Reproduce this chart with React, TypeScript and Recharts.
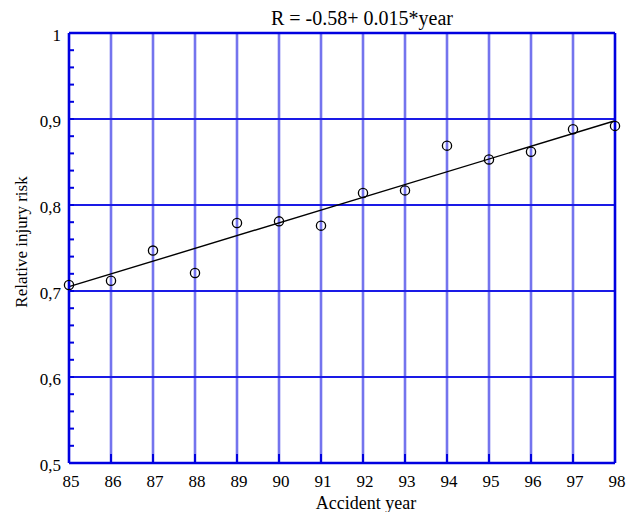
import React from "react";
import {
  ComposedChart,
  Scatter,
  Line,
  XAxis,
  YAxis,
  ReferenceLine,
} from "recharts";

const years = [85, 86, 87, 88, 89, 90, 91, 92, 93, 94, 95, 96, 97, 98];
const risk = [0.707, 0.712, 0.747, 0.721, 0.779, 0.781, 0.776, 0.814, 0.817, 0.869, 0.853, 0.862, 0.888, 0.892];
const fitYears = [85, 98];
const fitRisk = [0.705, 0.898];
const gridYears = [86, 87, 88, 89, 90, 91, 92, 93, 94, 95, 96, 97];
const gridRisk = [0.6, 0.7, 0.8, 0.9];
const yTicks = [
  0.5, 0.52, 0.54, 0.56, 0.58, 0.6, 0.62, 0.64, 0.66, 0.68, 0.7, 0.72, 0.74, 0.76, 0.78,
  0.8, 0.82, 0.84, 0.86, 0.88, 0.9, 0.92, 0.94, 0.96, 0.98, 1.0,
];
const yMajor = [0.5, 0.6, 0.7, 0.8, 0.9, 1.0];
const yMajorLabels = ["0,5", "0,6", "0,7", "0,8", "0,9", "1"];
const title = "R = -0.58+ 0.015*year";
const xTitle = "Accident year";
const yTitle = "Relative injury risk";

const scatterData = years.map((y, i) => ({ year: y, risk: risk[i] }));
const fitData = fitYears.map((y, i) => ({ year: y, fit: fitRisk[i] }));

const FONT = '"Liberation Serif", "Times New Roman", serif';
const AXIS = "#0000e0";

const majorLabel = (v: number) => {
  const idx = yMajor.findIndex((m) => Math.abs(m - v) < 1e-6);
  return idx >= 0 ? yMajorLabels[idx] : null;
};

const XBottomTick = (props: any) => {
  const { x, y, payload } = props;
  return (
    <g>
      <line x1={x} y1={y} x2={x} y2={y - 9} stroke={AXIS} strokeWidth={2} />
      <text x={x + 2} y={y + 24} textAnchor="middle" fontSize={17} fontFamily={FONT} fill="#000">
        {payload.value}
      </text>
    </g>
  );
};

const XTopTick = (props: any) => {
  const { x, y } = props;
  return <line x1={x} y1={y} x2={x} y2={y + 9} stroke={AXIS} strokeWidth={2} />;
};

const YLeftTick = (props: any) => {
  const { x, y, payload } = props;
  const lab = majorLabel(payload.value);
  return (
    <g>
      <line x1={x} y1={y} x2={x + 5} y2={y} stroke={AXIS} strokeWidth={2} />
      {lab !== null && (
        <text x={x - 8} y={y + 8} textAnchor="end" fontSize={17} fontFamily={FONT} fill="#000">
          {lab}
        </text>
      )}
    </g>
  );
};

const YRightTick = (props: any) => {
  const { x, y } = props;
  return <line x1={x} y1={y} x2={x - 5} y2={y} stroke={AXIS} strokeWidth={2} />;
};

const Circle = (props: any) => {
  const { cx, cy } = props;
  return <circle cx={cx} cy={cy} r={4.6} fill="none" stroke="#000" strokeWidth={1.3} />;
};

export default function App() {
  return (
    <div style={{ position: "absolute", left: 0, top: 0, width: 626, height: 512, background: "#fff" }}>
      <ComposedChart
        width={626}
        height={512}
        margin={{ top: 32, right: 10, bottom: 48, left: 68 }}
      >
        {gridYears.map((g) => (
          <ReferenceLine key={"gx" + g} x={g} stroke="#7474ee" strokeWidth={2.6} ifOverflow="visible" />
        ))}
        {gridRisk.map((g) => (
          <ReferenceLine key={"gy" + g} y={g} stroke="#1a1ae6" strokeWidth={2} ifOverflow="visible" />
        ))}
        <XAxis
          type="number"
          dataKey="year"
          domain={[85, 98]}
          ticks={years}
          interval={0}
          height={1}
          tickSize={0}
          tickMargin={0}
          tickLine={false}
          axisLine={{ stroke: AXIS, strokeWidth: 2.6 }}
          tick={<XBottomTick />}
        />
        <XAxis
          xAxisId="top"
          orientation="top"
          type="number"
          dataKey="year"
          domain={[85, 98]}
          ticks={years}
          interval={0}
          height={1}
          tickSize={0}
          tickMargin={0}
          tickLine={false}
          axisLine={{ stroke: AXIS, strokeWidth: 2.6 }}
          tick={<XTopTick />}
        />
        <YAxis
          type="number"
          domain={[0.5, 1]}
          ticks={yTicks}
          interval={0}
          width={1}
          tickSize={0}
          tickMargin={0}
          tickLine={false}
          axisLine={{ stroke: AXIS, strokeWidth: 2.6 }}
          tick={<YLeftTick />}
        />
        <YAxis
          yAxisId="right"
          orientation="right"
          type="number"
          domain={[0.5, 1]}
          ticks={yTicks}
          interval={0}
          width={1}
          tickSize={0}
          tickMargin={0}
          tickLine={false}
          axisLine={{ stroke: AXIS, strokeWidth: 2.6 }}
          tick={<YRightTick />}
        />
        <Line
          data={fitData}
          dataKey="fit"
          stroke="#000"
          strokeWidth={1.4}
          dot={false}
          activeDot={false}
          isAnimationActive={false}
        />
        <Scatter data={scatterData} dataKey="risk" shape={<Circle />} isAnimationActive={false} />
        <text x={362} y={25} textAnchor="middle" fontSize={20} fontFamily={FONT} fill="#000">
          {title}
        </text>
        <text x={366} y={509} textAnchor="middle" fontSize={18} fontFamily={FONT} fill="#000">
          {xTitle}
        </text>
        <text
          x={27}
          y={242}
          textAnchor="middle"
          fontSize={17}
          fontFamily={FONT}
          fill="#000"
          transform="rotate(-90, 27, 242)"
        >
          {yTitle}
        </text>
      </ComposedChart>
    </div>
  );
}
